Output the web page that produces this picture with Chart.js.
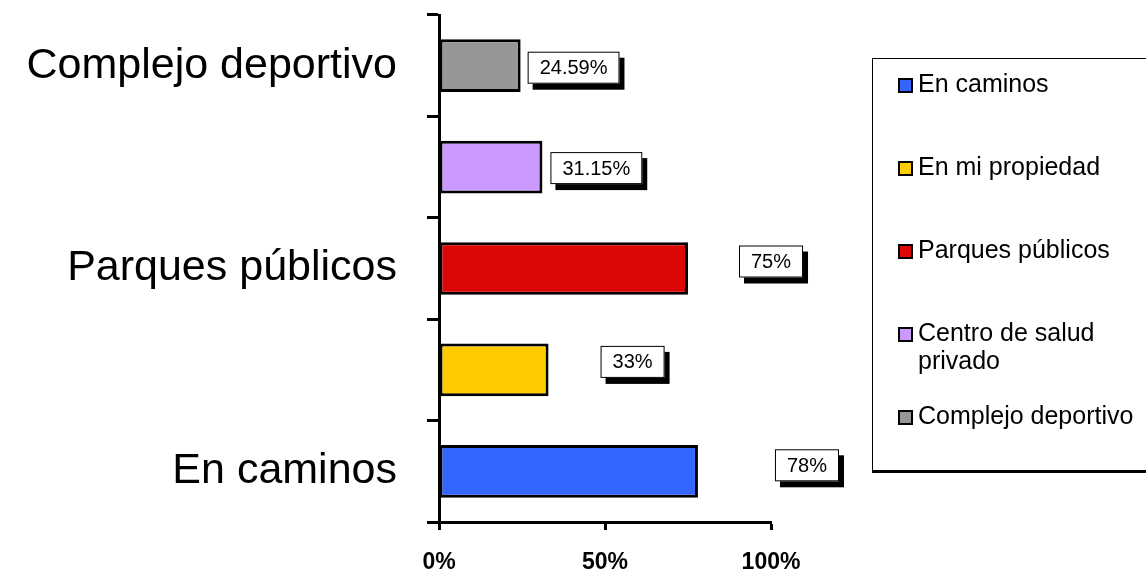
<!DOCTYPE html>
<html>
<head>
<meta charset="utf-8">
<title>Lugares</title>
<script src="https://cdn.jsdelivr.net/npm/chart.js@4.4.1/dist/chart.umd.min.js"></script>
<style>
  html, body { margin: 0; padding: 0; background: #fff; }
  #wrap { position: relative; width: 1146px; height: 573px; }
</style>
</head>
<body>
<div id="wrap"><canvas id="lugaresChart"></canvas></div>
<script>
// --- data (bottom bar first, same order as the legend) ---
const categories = ['En caminos', 'En mi propiedad', 'Parques públicos', 'Centro de salud privado', 'Complejo deportivo'];
const values = [78, 33, 75, 31.15, 24.59];
const valueLabels = ['78%', '33%', '75%', '31.15%', '24.59%'];
const barColors = ['#3366FF', '#FFCC00', '#DD0806', '#CC99FF', '#969696'];
const xTicks = [0, 50, 100];

const FONT = '"Liberation Sans", Arial, sans-serif';

// value boxes with a drop shadow, nudged a bit like the original
const valueBoxPlugin = {
    id: 'valueBoxes',
    afterDatasetsDraw(chart, args, opts) {
        const ctx = chart.ctx;
        const meta = chart.getDatasetMeta(0);
        ctx.save();
        ctx.font = '20px ' + FONT;
        meta.data.forEach((bar, i) => {
            const text = valueLabels[i];
            const w = ctx.measureText(text).width + 24;
            const h = 32;
            const x = bar.x + opts.gapX[i];
            const y = bar.y + opts.shiftY[i] - h / 2;
            // shadow
            ctx.fillStyle = '#000';
            ctx.fillRect(x + 5, y + 6, w, h);
            // box
            ctx.fillStyle = '#fff';
            ctx.fillRect(x, y, w, h);
            ctx.strokeStyle = '#000';
            ctx.lineWidth = 1;
            ctx.strokeRect(x + 0.5, y + 0.5, w - 1, h - 1);
            ctx.fillStyle = '#000';
            ctx.textAlign = 'center';
            ctx.textBaseline = 'middle';
            ctx.fillText(text, x + w / 2, y + h / 2 + 1);
        });
        ctx.restore();
    }
};

// legend box on the right
const sideLegendPlugin = {
    id: 'sideLegend',
    afterDraw(chart, args, opts) {
        const ctx = chart.ctx;
        ctx.save();
        // frame (right side runs off the picture)
        ctx.strokeStyle = '#000';
        ctx.lineWidth = 1;
        ctx.strokeRect(opts.left + 0.5, opts.top + 0.5, 400, opts.bottom - opts.top);
        ctx.fillStyle = '#000';
        ctx.fillRect(opts.left, opts.bottom - 1, 400, 3);

        ctx.font = '25px ' + FONT;
        ctx.textAlign = 'left';
        ctx.textBaseline = 'middle';
        categories.forEach((name, i) => {
            const cy = opts.firstY + i * opts.step;
            // marker
            ctx.fillStyle = barColors[i];
            ctx.fillRect(opts.left + 27, cy - 6, 13, 13);
            ctx.strokeStyle = '#000';
            ctx.lineWidth = 2;
            ctx.strokeRect(opts.left + 27, cy - 6, 13, 13);
            // text, wrapped if too long
            const words = name.split(' ');
            const lines = [];
            let line = '';
            words.forEach(wd => {
                const test = line ? line + ' ' + wd : wd;
                if (ctx.measureText(test).width > opts.maxWidth && line) {
                    lines.push(line);
                    line = wd;
                } else {
                    line = test;
                }
            });
            lines.push(line);
            ctx.fillStyle = '#000';
            lines.forEach((ln, k) => {
                ctx.fillText(ln, opts.left + 46, cy + k * 28);
            });
        });
        ctx.restore();
    }
};

document.addEventListener('DOMContentLoaded', () => {
    const ctx = document.getElementById('lugaresChart').getContext('2d');

    new Chart(ctx, {
        type: 'bar',
        data: {
            labels: categories,
            datasets: [{
                data: values,
                backgroundColor: barColors,
                borderColor: '#000',
                borderWidth: 3,
                borderSkipped: false,
                barPercentage: 0.52,
                categoryPercentage: 1
            }]
        },
        options: {
            indexAxis: 'y',
            responsive: true,
            maintainAspectRatio: false,
            animation: false,
            layout: { padding: { top: 15, right: 375, bottom: 0, left: 0 } },
            scales: {
                x: {
                    min: 0,
                    max: 100,
                    afterBuildTicks: axis => { axis.ticks = xTicks.map(v => ({ value: v })); },
                    afterFit: axis => {
                        axis.height = 51;
                        axis.paddingLeft = 0;
                        axis.paddingRight = 0;
                    },
                    grid: {
                        drawOnChartArea: false,
                        tickLength: 8,
                        tickWidth: 3,
                        tickColor: '#000'
                    },
                    border: { display: true, color: '#000', width: 3 },
                    ticks: {
                        padding: 19,
                        color: '#000',
                        font: { family: FONT, size: 23, weight: 'bold' },
                        callback: v => v + '%'
                    }
                },
                y: {
                    reverse: true,
                    afterFit: axis => {
                        axis.width = 439;
                        axis.paddingTop = 0;
                        axis.paddingBottom = 0;
                    },
                    grid: {
                        drawOnChartArea: false,
                        offset: true,
                        tickLength: 12,
                        tickWidth: 3,
                        tickColor: '#000'
                    },
                    border: { display: true, color: '#000', width: 3 },
                    ticks: {
                        padding: 30,
                        color: '#000',
                        autoSkip: false,
                        font: { family: FONT, size: 43 },
                        // only every other category is labelled, as in the original
                        callback: function (v, i) { return i % 2 === 0 ? this.getLabelForValue(v) : ''; }
                    }
                }
            },
            plugins: {
                legend: { display: false },
                tooltip: { enabled: false },
                valueBoxes: {
                    gapX: [77, 52, 51, 8, 7],
                    shiftY: [-6, -8, -7, 1, 2]
                },
                sideLegend: {
                    left: 872, top: 58, bottom: 471,
                    firstY: 85, step: 83, maxWidth: 225
                }
            }
        },
        plugins: [valueBoxPlugin, sideLegendPlugin]
    });
});
</script>
</body>
</html>
